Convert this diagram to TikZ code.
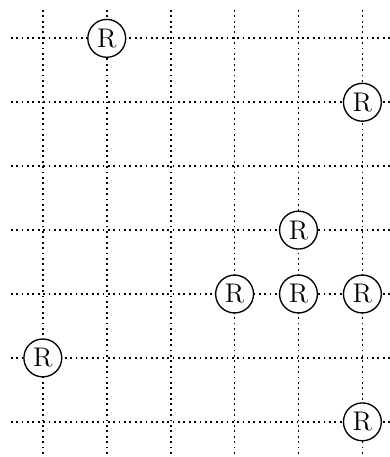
\documentclass[tikz,border=0pt]{standalone}
\usepackage{tikz}
\usetikzlibrary{positioning}

\begin{document}
\begin{tikzpicture}[
    gridline/.style={
        line width=0.8pt,
        dash pattern=on 0.8pt off 1.6pt,
        color=black
    },
    relay/.style={
        circle,
        draw,
        semithick,
        fill=white,
        inner sep=1.7pt,
        font=\large
    }
]

\useasboundingbox (-0.67,0.6) rectangle (5.42,-6.55);

% Street grid
\draw[gridline] (-0.5,0.5) grid (5.5,-6.5);

% Relays
\node[relay] (r1) at (1,0) {R};
\node[relay] (r2) at (5,-1) {R};
\node[relay] (r3) at (4,-3) {R};
\node[relay] (r4) at (3,-4) {R};
\node[relay] (r5) at (4,-4) {R};
\node[relay] (r6) at (5,-4) {R};
\node[relay] (r7) at (0,-5) {R};
\node[relay] (r8) at (5,-6) {R};

\end{tikzpicture}
\end{document}
